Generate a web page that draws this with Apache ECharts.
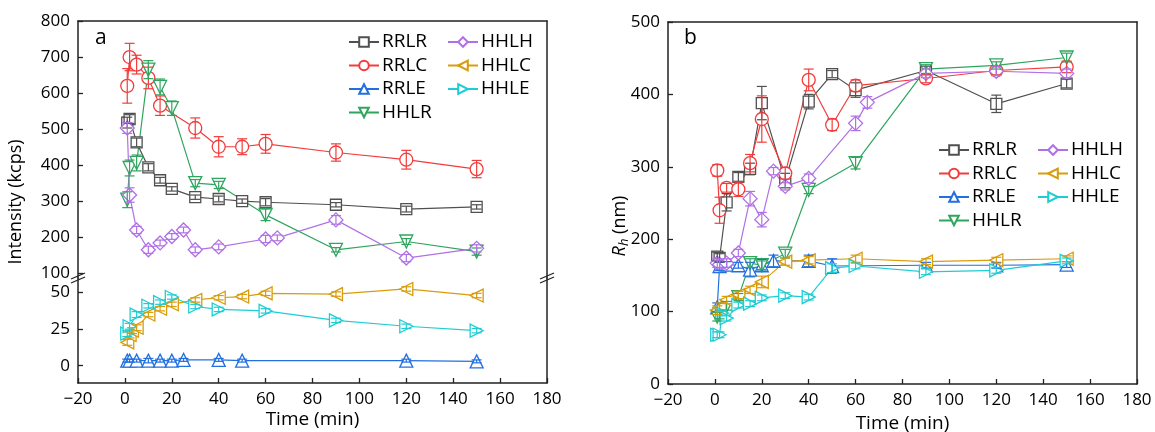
<!DOCTYPE html>
<html>
<head>
<meta charset="utf-8">
<script src="https://cdn.jsdelivr.net/npm/echarts@6/dist/echarts.min.js"></script>
<style>
html, body { margin: 0; padding: 0; background: #fff; }
#chart { width: 1155px; height: 432px; }
</style>
</head>
<body>
<div id="chart"></div>
<script>
// each point: [time (min), value, error]
// panel a, upper part (kcps)
const aRRLR = [[1,518,15],[2,528,12],[5,463,12],[10,394,10],[15,358,8],[20,334,6],[30,311,6],[40,306,8],[50,300,6],[60,297,10],[90,290,6],[120,278,8],[150,284,6]];
const aRRLC = [[1,620,48],[2,700,38],[5,679,26],[10,642,30],[15,565,27],[30,503,28],[40,451,28],[50,451,22],[60,459,26],[90,435,24],[120,415,26],[150,389,24]];
const aHHLR = [[1,304,22],[2,392,22],[5,406,22],[10,665,25],[15,617,22],[20,558,20],[30,350,10],[40,345,10],[60,262,16],[90,165,6],[120,188,8],[150,160,10]];
const aHHLH = [[1,503,15],[2,317,20],[5,220,10],[10,165,10],[15,184,8],[20,202,8],[25,220,8],[30,165,8],[40,173,8],[60,195,10],[65,198,8],[90,248,12],[120,142,10],[150,169,10]];
// panel a, lower part
const aRRLE = [[1,3.5,1],[2,3.5,1],[5,3.5,1],[10,3.5,1.5],[15,3.5,1],[20,3.5,1],[25,4,1],[40,4,1],[50,3.5,1],[120,3.5,1],[150,3,1]];
const aHHLC = [[1,16,2],[2,21,2],[3,24,2],[5,26,2],[10,35,1.5],[15,39,1.5],[20,42,1.5],[30,45,1.5],[40,46.5,1.5],[50,47.3,1.5],[60,49.5,1.5],[90,49,1.5],[120,52.5,1.5],[150,48,1.5]];
const aHHLE = [[1,22,2],[2,27,2],[5,35,2],[10,41,1.5],[15,43.5,1.5],[20,47,1.5],[30,40.5,1.5],[40,38.5,1.5],[60,37.5,1.5],[90,31,1.5],[120,27,1.5],[150,24,1.5]];
// panel b (nm)
const bRRLR = [[1,176,6],[2,174,6],[5,251,12],[10,286,6],[15,297,8],[20,388,23],[30,281,10],[40,390,10],[50,428,5],[60,406,10],[90,433,6],[120,387,12],[150,415,6]];
const bRRLC = [[1,295,8],[2,240,18],[5,271,6],[10,269,10],[15,305,12],[20,366,32],[30,291,8],[40,420,15],[50,358,8],[60,412,8],[90,422,6],[120,433,6],[150,438,8]];
const bRRLE = [[1,106,6],[2,163,6],[5,165,4],[10,164,4],[15,158,10],[20,164,8],[25,170,8],[40,170,8],[50,163,10],[90,164,4],[120,164,4],[150,165,4]];
const bHHLR = [[1,93,6],[2,96,6],[5,108,6],[10,120,5],[15,167,6],[20,164,6],[30,180,6],[40,268,5],[60,305,8],[90,435,6],[120,440,5],[150,451,6]];
const bHHLH = [[1,167,6],[2,165,6],[5,167,6],[10,181,5],[15,256,10],[20,227,10],[25,294,5],[30,273,5],[40,284,6],[60,360,10],[65,389,8],[90,429,6],[120,432,6],[150,429,6]];
const bHHLC = [[1,102,6],[2,106,6],[5,116,5],[10,123,5],[15,130,5],[20,141,8],[30,169,5],[40,171,5],[60,173,5],[90,169,4],[120,171,4],[150,173,4]];
const bHHLE = [[1,68,4],[2,68,4],[3,98,4],[5,91,4],[10,109,4],[15,111,4],[20,119,4],[30,122,4],[40,120,4],[50,160,6],[60,163,4],[90,155,4],[120,157,4],[150,170,4]];

const xTicks = [-20, 180, 20];
const upperTicks = [100, 200, 300, 400, 500, 600, 700, 800];
const lowerTicks = [0, 25, 50];

const FONT = 'Open Sans';
const AXIS = '#222';

const look = {
    RRLR: { color: '#505050', symbol: 'rect', rot: 0, size: 11 },
    RRLC: { color: '#f23c3c', symbol: 'circle', rot: 0, size: 13 },
    RRLE: { color: '#2270e0', symbol: 'triangle', rot: 0, size: 13 },
    HHLR: { color: '#2fa55e', symbol: 'triangle', rot: 180, size: 13 },
    HHLH: { color: '#b070e6', symbol: 'diamond', rot: 0, size: 14 },
    HHLC: { color: '#d89c0c', symbol: 'triangle', rot: 90, size: 13 },
    HHLE: { color: '#1ecdd4', symbol: 'triangle', rot: -90, size: 13 }
};

function makeSeries(name, data, xi, yi) {
    const s = look[name];
    const line = {
        name: name,
        type: 'line',
        xAxisIndex: xi,
        yAxisIndex: yi,
        data: data.map(d => [d[0], d[1]]),
        symbol: s.symbol,
        symbolSize: s.size,
        symbolRotate: s.rot,
        showAllSymbol: true,
        itemStyle: { color: '#fff', borderColor: s.color, borderWidth: 1.3 },
        lineStyle: { color: s.color, width: 1.2 },
        emphasis: { disabled: true },
        z: 3
    };
    const err = {
        name: name + ' err',
        type: 'custom',
        xAxisIndex: xi,
        yAxisIndex: yi,
        data: data,
        encode: { x: 0, y: 1 },
        silent: true,
        z: 4,
        renderItem: function (params, api) {
            const x = api.value(0), y = api.value(1), e = api.value(2);
            const hi = api.coord([x, y + e]);
            const lo = api.coord([x, y - e]);
            const w = 5;
            const st = { stroke: s.color, lineWidth: 1.2 };
            return {
                type: 'group',
                children: [
                    { type: 'line', shape: { x1: hi[0], y1: hi[1], x2: lo[0], y2: lo[1] }, style: st },
                    { type: 'line', shape: { x1: hi[0] - w, y1: hi[1], x2: hi[0] + w, y2: hi[1] }, style: st },
                    { type: 'line', shape: { x1: lo[0] - w, y1: lo[1], x2: lo[0] + w, y2: lo[1] }, style: st }
                ]
            };
        }
    };
    return [line, err];
}

const lineOn = { show: true, onZero: false, lineStyle: { color: AXIS, width: 1.5 } };

function frameAxis(gi, pos) {
    return {
        gridIndex: gi, position: pos, type: 'value',
        min: xTicks[0], max: xTicks[1],
        axisLine: lineOn,
        axisTick: { show: false }, axisLabel: { show: false }, splitLine: { show: false }
    };
}

function xAxisMain(gi) {
    return {
        gridIndex: gi, type: 'value', position: 'bottom',
        min: xTicks[0], max: xTicks[1], interval: xTicks[2],
        name: 'Time (min)', nameLocation: 'middle', nameGap: 27,
        nameTextStyle: { fontFamily: FONT, fontSize: 19, color: '#000' },
        axisLine: lineOn,
        axisTick: { show: true, inside: true, length: 5, lineStyle: { color: AXIS, width: 1.3 } },
        axisLabel: {
            fontFamily: FONT, fontSize: 17, color: '#000', margin: 8,
            formatter: v => (v < 0 ? '\u2212' + Math.abs(v) : String(v))
        },
        splitLine: { show: false }
    };
}

function yRight(gi, min, max) {
    return {
        gridIndex: gi, type: 'value', position: 'right', min: min, max: max,
        axisLine: lineOn,
        axisTick: { show: false }, axisLabel: { show: false }, splitLine: { show: false }
    };
}

function yLeft(gi, min, max, ticks) {
    return {
        gridIndex: gi, type: 'value', position: 'left', min: min, max: max,
        axisLine: lineOn,
        axisTick: { show: true, inside: true, length: 5, customValues: ticks, lineStyle: { color: AXIS, width: 1.3 } },
        axisLabel: { fontFamily: FONT, fontSize: 17, color: '#000', margin: 8, customValues: ticks },
        splitLine: { show: false }
    };
}

function breakMark(x, y) {
    return {
        type: 'group', x: x, y: y, z: 100,
        children: [
            { type: 'polygon', shape: { points: [[-7, 1], [7, -5], [7, -1], [-7, 5]] }, style: { fill: '#fff' } },
            { type: 'line', shape: { x1: -7, y1: 1, x2: 7, y2: -5 }, style: { stroke: AXIS, lineWidth: 1.3 } },
            { type: 'line', shape: { x1: -7, y1: 5, x2: 7, y2: -1 }, style: { stroke: AXIS, lineWidth: 1.3 } }
        ]
    };
}

function legendCol(names, left, top) {
    return {
        data: names, left: left, top: top, orient: 'vertical',
        itemWidth: 30, itemHeight: 12, itemGap: 3.5, padding: 0,
        selectedMode: false,
        textStyle: { fontFamily: FONT, fontSize: 19, color: '#000', lineHeight: 20, padding: [0, 0, 0, -2] }
    };
}

const series = [].concat(
    makeSeries('RRLR', aRRLR, 0, 0),
    makeSeries('RRLC', aRRLC, 0, 0),
    makeSeries('HHLR', aHHLR, 0, 0),
    makeSeries('HHLH', aHHLH, 0, 0),
    makeSeries('RRLE', aRRLE, 2, 2),
    makeSeries('HHLC', aHHLC, 2, 2),
    makeSeries('HHLE', aHHLE, 2, 2),
    makeSeries('RRLR', bRRLR, 3, 4),
    makeSeries('RRLC', bRRLC, 3, 4),
    makeSeries('RRLE', bRRLE, 3, 4),
    makeSeries('HHLR', bHHLR, 3, 4),
    makeSeries('HHLH', bHHLH, 3, 4),
    makeSeries('HHLC', bHHLC, 3, 4),
    makeSeries('HHLE', bHHLE, 3, 4)
);

const chart = echarts.init(document.getElementById('chart'), null, { renderer: 'canvas' });

chart.setOption({
    animation: false,
    backgroundColor: '#fff',
    grid: [
        { left: 78, top: 21, width: 469, height: 257, outerBoundsMode: 'none', containLabel: false },
        { left: 78, top: 278, width: 469, height: 105, outerBoundsMode: 'none', containLabel: false },
        { left: 668, top: 22, width: 469, height: 362, outerBoundsMode: 'none', containLabel: false }
    ],
    xAxis: [
        Object.assign(frameAxis(0, 'bottom'), { axisLine: { show: false } }),
        frameAxis(0, 'top'),
        xAxisMain(1),
        xAxisMain(2),
        frameAxis(2, 'top')
    ],
    yAxis: [
        yLeft(0, 86.7, 800, upperTicks),
        yRight(0, 86.7, 800),
        yLeft(1, -11.8, 60, lowerTicks),
        yRight(1, -11.8, 60),
        {
            gridIndex: 2, type: 'value', position: 'left', min: 0, max: 500, interval: 100,
            axisLine: lineOn,
            axisTick: { show: true, inside: true, length: 5, lineStyle: { color: AXIS, width: 1.3 } },
            axisLabel: { fontFamily: FONT, fontSize: 17, color: '#000', margin: 8 },
            splitLine: { show: false }
        },
        yRight(2, 0, 500)
    ],
    legend: [
        legendCol(['RRLR', 'RRLC', 'RRLE', 'HHLR'], 348, 32),
        legendCol(['HHLH', 'HHLC', 'HHLE'], 447, 32),
        legendCol(['RRLR', 'RRLC', 'RRLE', 'HHLR'], 938, 140),
        legendCol(['HHLH', 'HHLC', 'HHLE'], 1037, 140)
    ],
    graphic: [
        breakMark(78, 278),
        breakMark(547, 278),
        { type: 'text', left: 95, top: 28, style: { text: 'a', fontFamily: FONT, fontSize: 21, fill: '#000' } },
        { type: 'text', left: 684, top: 28, style: { text: 'b', fontFamily: FONT, fontSize: 21, fill: '#000' } },
        {
            type: 'text', x: 16, y: 202, rotation: Math.PI / 2,
            style: { text: 'Intensity (kcps)', fontFamily: FONT, fontSize: 18, fill: '#000', align: 'center', verticalAlign: 'middle' }
        },
        {
            type: 'text', x: 620, y: 226, rotation: Math.PI / 2,
            style: {
                text: '{i|R}{s|h}{n| (nm)}', align: 'center', verticalAlign: 'middle',
                rich: {
                    i: { fontFamily: FONT, fontSize: 18, fontStyle: 'italic', fill: '#000' },
                    s: { fontFamily: FONT, fontSize: 13, fontStyle: 'italic', fill: '#000', padding: [9, 0, 0, 0] },
                    n: { fontFamily: FONT, fontSize: 18, fill: '#000' }
                }
            }
        }
    ],
    series: series
});
</script>
</body>
</html>
